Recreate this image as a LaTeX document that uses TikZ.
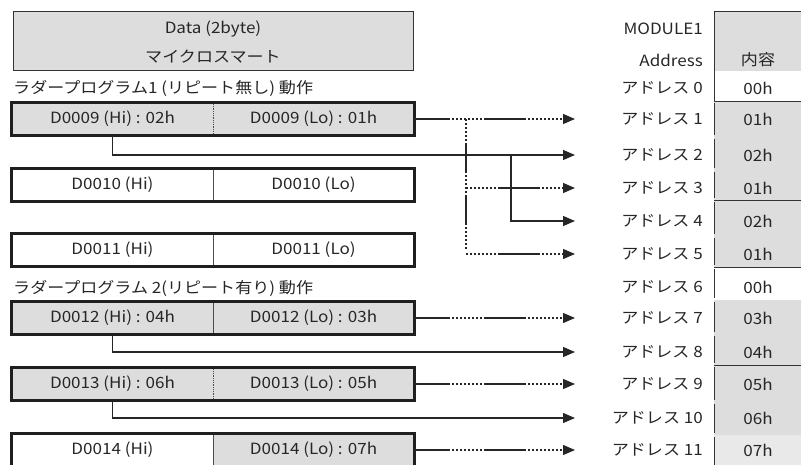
\documentclass[tikz,border=0pt]{standalone}
\usepackage{fontspec}
\setmainfont{Noto Sans CJK JP}[FakeStretch=1.1]
\usetikzlibrary{arrows.meta}
\definecolor{cellgray}{HTML}{DDDDDD}
\definecolor{paler}{HTML}{E9E9E9}
\definecolor{ink}{HTML}{262626}
\tikzset{
    txt/.style={inner sep=0pt, text=ink, font=\fontsize{15.5}{15.5}\selectfont},
    reg/.style={txt, minimum width=201pt, minimum height=33pt},
    regframe/.style={draw=black!88, line width=2.8pt},
    addr/.style={txt, anchor=east},
    link/.style={draw=black!85, line width=1.1pt, -{Triangle[length=12pt,width=10pt]}},
    mixed/.style={dash pattern=on 36pt off 2pt on 2pt off 2pt on 2pt off 2pt on 2pt off 2pt on 2pt off 2pt on 2pt off 2pt on 2pt off 2pt on 2pt off 2pt on 2pt off 2pt on 42pt off 2pt on 2pt off 2pt on 2pt off 2pt on 2pt off 2pt on 2pt off 2pt on 2pt off 2pt on 2pt off 2pt on 2pt off 2pt on 2pt off 2pt on 2pt off 2pt on 2pt off 2pt on 60pt},
    bmixed/.style={dash pattern=on 2pt off 2pt on 2pt off 2pt on 2pt off 2pt on 2pt off 2pt on 2pt off 2pt on 2pt off 2pt on 2pt off 2pt on 2pt off 2pt on 42pt off 2pt on 2pt off 2pt on 2pt off 2pt on 2pt off 2pt on 2pt off 2pt on 2pt off 2pt on 2pt off 2pt on 60pt},
    vmixed/.style={draw=black!85, line width=1.1pt, dash pattern=on 2pt off 2pt on 2pt off 2pt on 2pt off 2pt on 2pt off 2pt on 2pt off 2pt on 2pt off 2pt on 30pt off 2pt on 2pt off 2pt on 2pt off 2pt on 2pt off 2pt on 2pt off 2pt on 2pt off 2pt on 30pt}
}
\begin{document}
\begin{tikzpicture}[x=1pt,y=-1pt]
        \useasboundingbox (0,0) rectangle (801,465);
        \draw[fill=cellgray, draw=black!80, line width=0.8pt] (13,11) rectangle (413,70);
        \node[txt] (data) at (213,29) {Data (2byte)};
        \node[txt] (micro) at (213,57) {マイクロスマート};
        \node[txt, anchor=west] (prog1) at (13,88) {ラダープログラム1 (リピート無し) 動作};
        \node[txt, anchor=west] (prog2) at (13,288) {ラダープログラム 2(リピート有り) 動作};
        \foreach \n/\y/\hi/\lo/\hf/\lf/\sep in {9/119/D0009 (Hi) : 02h/D0009 (Lo) : 01h/cellgray/cellgray/densely dotted,
                10/185/D0010 (Hi)/D0010 (Lo)/white/white/solid,
                11/250/D0011 (Hi)/D0011 (Lo)/white/white/solid,
                12/318/D0012 (Hi) : 04h/D0012 (Lo) : 03h/cellgray/cellgray/solid,
                13/384/D0013 (Hi) : 06h/D0013 (Lo) : 05h/cellgray/cellgray/densely dotted,
                14/450/D0014 (Hi)/D0014 (Lo) : 07h/white/cellgray/solid} {
            \node[reg, fill=\hf] (h\n) at (112.5,\y) {\hi};
            \node[reg, fill=\lf] (l\n) at (313.5,\y) {\lo};
            \draw[black!70, line width=0.8pt, \sep] (h\n.north east) -- (h\n.south east);
            \draw[regframe] (h\n.north west) rectangle (l\n.south east);
        }
        \fill[cellgray] (714,11) rectangle (806,71);
        \draw[black!80, line width=0.8pt] (806,11) -- (714,11) -- (714,71) -- (806,71);
        \node[addr] (module) at (703,29) {MODULE1};
        \node[addr] (address) at (703,60) {Address};
        \node[txt] (naiyo) at (758,60) {内容};
        \foreach \i/\y/\t/\b/\c/\v in {0/88/71/101/white/00h, 1/119/101/137/cellgray/01h, 2/155/137/170/cellgray/02h,
                3/188/170/200/cellgray/01h, 4/221/200/236/cellgray/02h, 5/254/236/267/cellgray/01h,
                6/287/267/300/white/00h, 7/318/300/334/cellgray/03h, 8/352/334/365/cellgray/04h,
                9/384/365/402/cellgray/05h, 10/418/402/435/cellgray/06h, 11/450/435/470/paler/07h} {
            \fill[\c] (714,\t) rectangle (806,\b);
            \draw[black!80, line width=0.9pt] (714,\t+2) -- (714,\b-2);
            \coordinate (t\i) at (575,\y);
            \node[addr] (a\i) at (703,\y) {アドレス \i};
            \node[txt] (v\i) at (758,\y) {\v};
        }
        \draw[black!80, line width=0.8pt] (714,101) -- (806,101);
        \draw[black!80, line width=0.8pt] (714,71) -- (714,101);
        \foreach \b in {200,267,365}
            \draw[black!80, line width=0.8pt] (714,\b) -- (806,\b);
        \coordinate (b1) at (466,119);
        \coordinate (b2) at (511,155);
        \draw[link, mixed] (l9.east) -- (t1);
        \draw[link] (h9.south) |- (t2);
        \draw[vmixed] (b1) -- (b1 |- t5);
        \draw[link, bmixed] (b1 |- t3) -- (t3);
        \draw[link, bmixed] (b1 |- t5) -- (t5);
        \draw[link] (b2) |- (t4);
        \draw[link, mixed] (l12.east) -- (t7);
        \draw[link] (h12.south) |- (t8);
        \draw[link, mixed] (l13.east) -- (t9);
        \draw[link] (h13.south) |- (t10);
        \draw[link, mixed] (l14.east) -- (t11);
\end{tikzpicture}
\end{document}
